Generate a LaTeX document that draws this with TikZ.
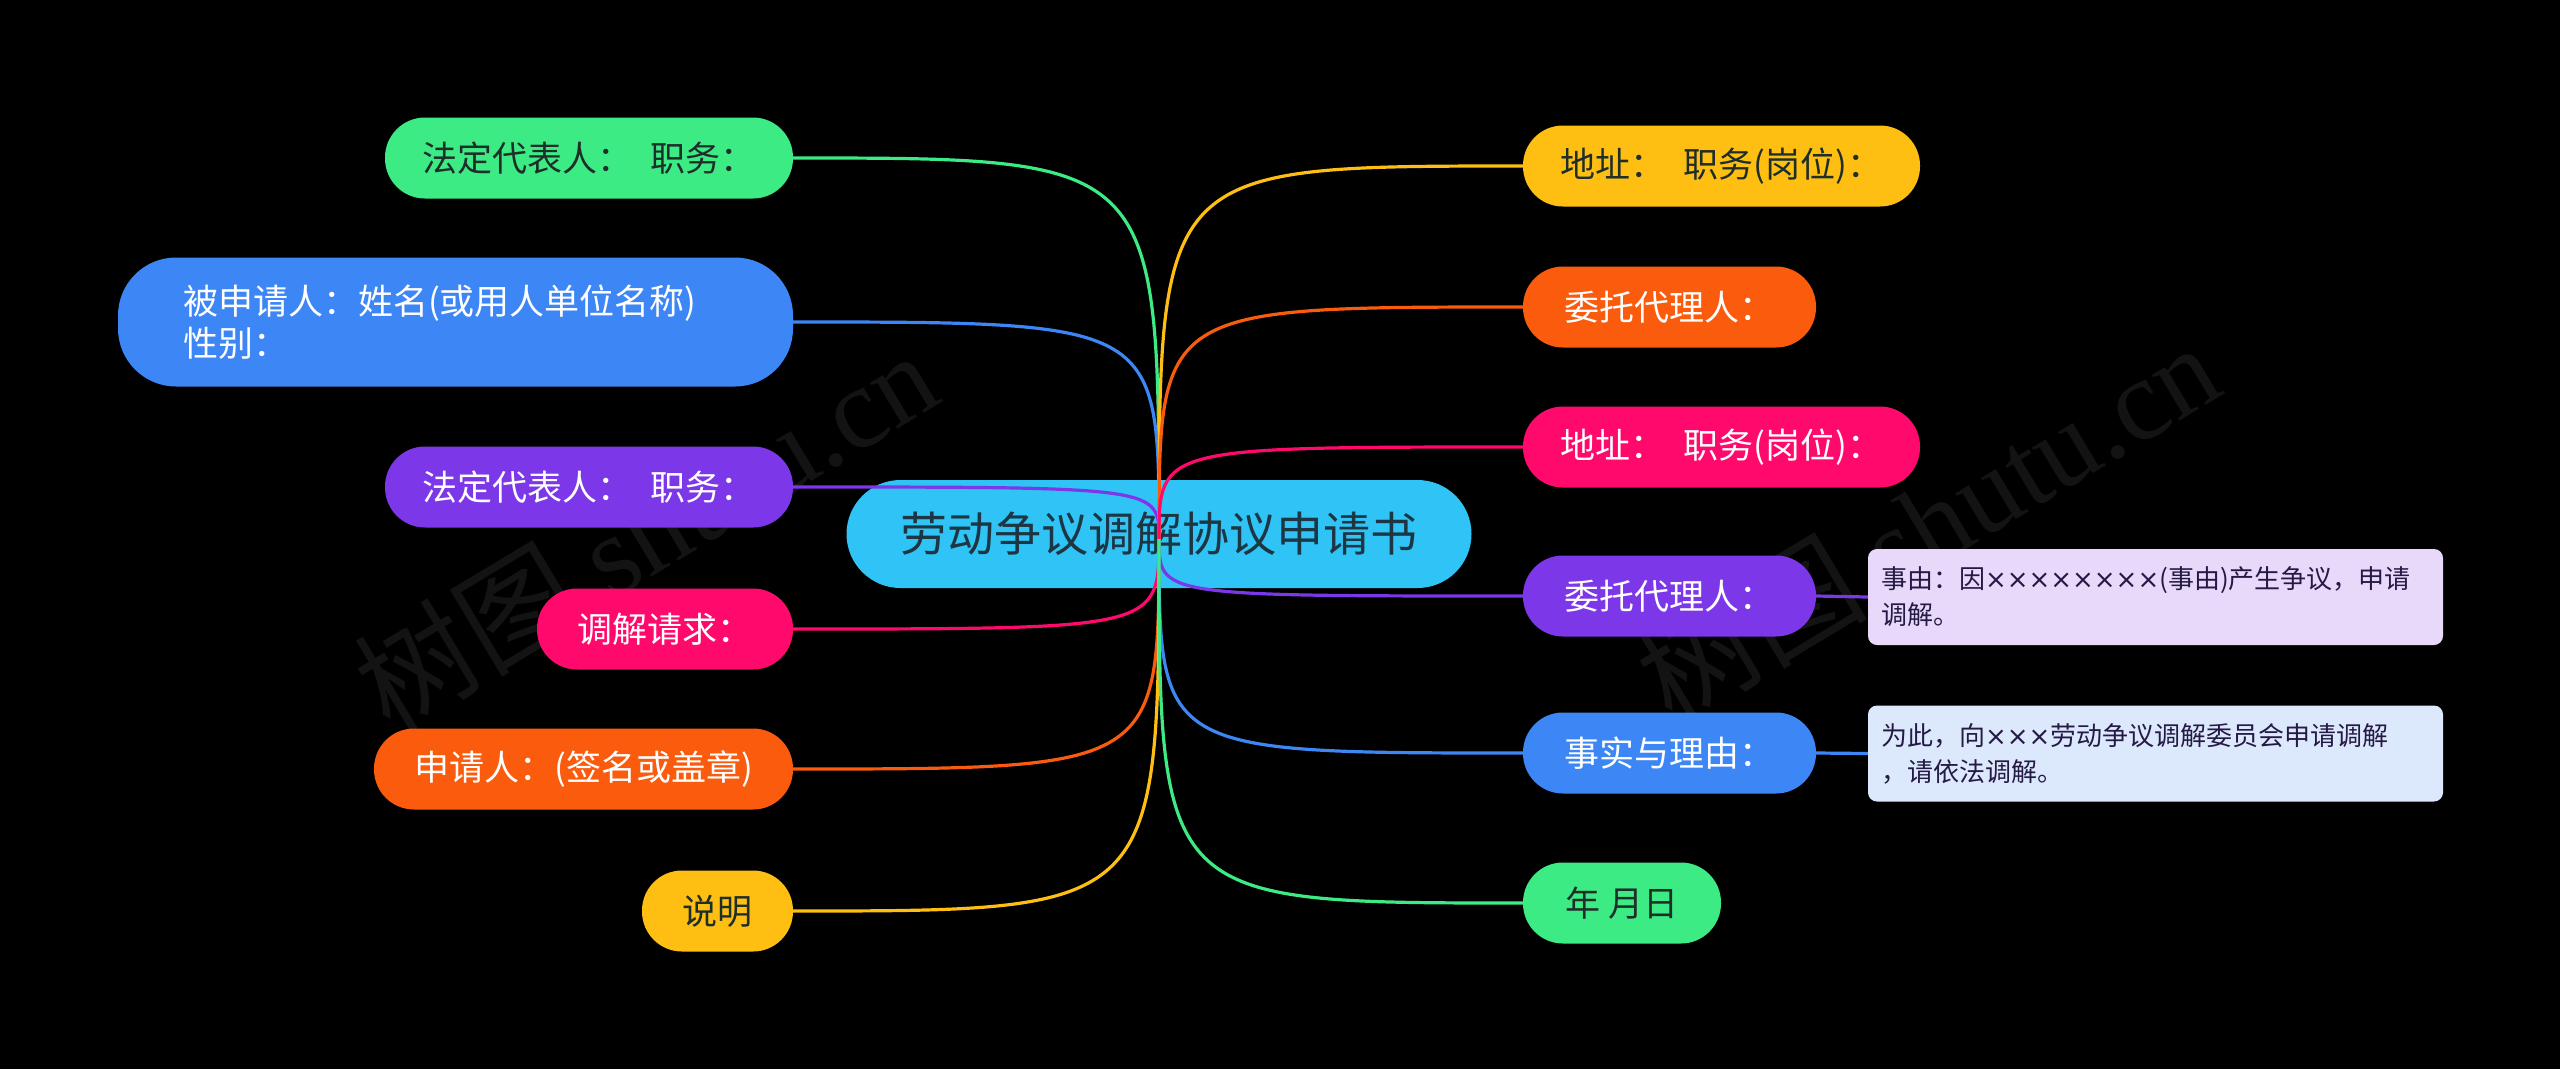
\documentclass[tikz,border=0pt]{standalone}
\usepackage{fontspec}
\newfontfamily\cjk{Noto Sans CJK SC}
\newfontfamily\wmserif{Liberation Serif}
\newfontfamily\djv{DejaVu Sans}
\newcommand{\tms}{{\djv ×}}
\definecolor{cgreen}{HTML}{3DEB85}
\definecolor{cblue}{HTML}{3D86F5}
\definecolor{cpurple}{HTML}{7B37E8}
\definecolor{cpink}{HTML}{FF0A6C}
\definecolor{corange}{HTML}{FA5B0C}
\definecolor{cyellow}{HTML}{FFBE12}
\definecolor{ccenter}{HTML}{2FC4F5}
\definecolor{notea}{HTML}{E8D9FA}
\definecolor{noteb}{HTML}{DCE9FC}
\definecolor{darktxt}{HTML}{1E2E28}
\definecolor{centertxt}{HTML}{1C3644}
\definecolor{notetxt}{HTML}{251A45}
\definecolor{wm}{HTML}{131313}
\begin{document}
\begin{tikzpicture}[x=1pt,y=-1pt,
  pill/.style={rounded corners=40pt, minimum height=81pt, inner sep=0pt,
    font=\cjk\fontsize{35}{42}\selectfont},
  notebox/.style={rounded corners=9pt, minimum width=575pt, minimum height=96pt,
    inner xsep=13pt, inner ysep=0pt, text width=549pt, align=left,
    font=\cjk\fontsize{26}{36}\selectfont, text=notetxt},
  ed/.style={line width=3.2pt},
  wmark/.style={text=wm, rotate=31}]
\fill[black] (0,0) rectangle (2560,1069);
\useasboundingbox (0,0) rectangle (2560,1069);
% watermarks
\node[wmark] (wm1) at (645,530) {\cjk\fontsize{116}{116}\selectfont 树图 \wmserif shutu.cn};
\node[wmark] (wm2) at (1927,522) {\cjk\fontsize{116}{116}\selectfont 树图 \wmserif shutu.cn};
% convergence point
\coordinate (C) at (1159,539);
% center
\node[pill, rounded corners=54pt, fill=ccenter, minimum width=625pt, minimum height=108pt,
  text=centertxt, font=\cjk\fontsize{47}{52}\selectfont] (root) at (1159,534) {劳动争议调解协议申请书};
% left nodes
\node[pill, fill=cgreen, minimum width=408pt, text=darktxt] (L1) at (589,158) {法定代表人：\hspace{0.3em} 职务：};
\node[pill, fill=cblue, rounded corners=58pt, minimum height=129pt, inner xsep=65pt,
  text width=545pt, align=left, text=white] (L2) at (455.5,322)
  {被申请人：姓名(或用人单位名称)\\性别：};
\node[pill, fill=cpurple, minimum width=408pt, text=white] (L3) at (589,487) {法定代表人：\hspace{0.3em} 职务：};
\node[pill, fill=cpink, minimum width=256pt, text=white] (L4) at (665,629) {调解请求：};
\node[pill, fill=corange, minimum width=419pt, text=white] (L5) at (583.5,769) {申请人：(签名或盖章)};
\node[pill, fill=cyellow, minimum width=151pt, text=darktxt] (L6) at (717.5,911) {说明};
% right nodes
\node[pill, fill=cyellow, minimum width=397pt, text=darktxt] (R1) at (1721.5,166) {地址：\hspace{0.3em} 职务(岗位)：};
\node[pill, fill=corange, minimum width=293pt, text=white] (R2) at (1669.5,307) {委托代理人：};
\node[pill, fill=cpink, minimum width=397pt, text=white] (R3) at (1721.5,447) {地址：\hspace{0.3em} 职务(岗位)：};
\node[pill, fill=cpurple, minimum width=293pt, text=white] (R4) at (1669.5,596) {委托代理人：};
\node[pill, fill=cblue, minimum width=293pt, text=white] (R5) at (1669.5,753) {事实与理由：};
\node[pill, fill=cgreen, minimum width=198pt, text=darktxt] (R6) at (1622,903) {年 月日};
% notes
\node[notebox, fill=notea] (N1) at (2155.5,597) {事由：因\tms\tms\tms\tms\tms\tms\tms\tms(事由)产生争议，申请\\调解。};
\node[notebox, fill=noteb] (N2) at (2155.5,753.5) {为此，向\tms\tms\tms 劳动争议调解委员会申请调解\\，请依法调解。};
% connectors
\draw[ed, cgreen]  (L1.east) .. controls (L1.east -| C) .. (C);
\draw[ed, cblue]   (L2.east) .. controls (L2.east -| C) .. (C);
\draw[ed, cpurple] (L3.east) .. controls (L3.east -| C) .. (C);
\draw[ed, cpink]   (L4.east) .. controls (L4.east -| C) .. (C);
\draw[ed, corange] (L5.east) .. controls (L5.east -| C) .. (C);
\draw[ed, cyellow] (L6.east) .. controls (L6.east -| C) .. (C);
\draw[ed, cyellow] (C) .. controls (C |- R1.west) .. (R1.west);
\draw[ed, corange] (C) .. controls (C |- R2.west) .. (R2.west);
\draw[ed, cpink]   (C) .. controls (C |- R3.west) .. (R3.west);
\draw[ed, cpurple] (C) .. controls (C |- R4.west) .. (R4.west);
\draw[ed, cblue]   (C) .. controls (C |- R5.west) .. (R5.west);
\draw[ed, cgreen]  (C) .. controls (C |- R6.west) .. (R6.west);
\draw[ed, cpurple] (R4.east) -- (N1.west);
\draw[ed, cblue]   (R5.east) -- (N2.west);
\end{tikzpicture}
\end{document}
